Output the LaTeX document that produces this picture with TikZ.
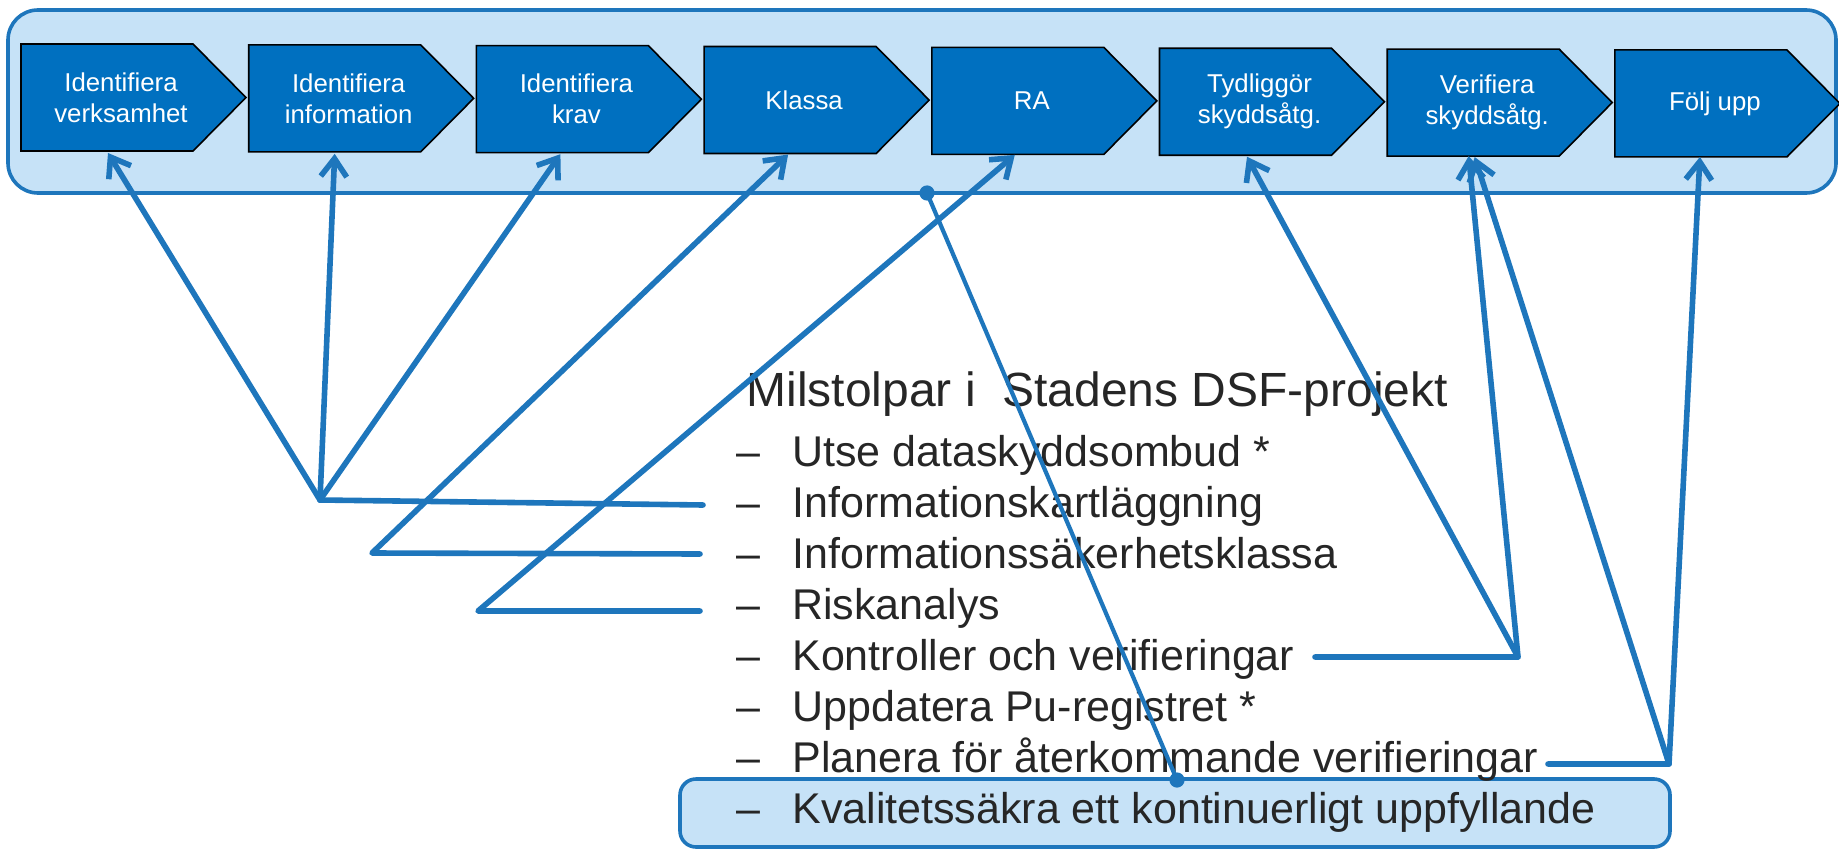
\documentclass[tikz,border=0pt]{standalone}
\usepackage{fontspec}
\setmainfont{Liberation Sans}
\usetikzlibrary{arrows.meta,calc}
\definecolor{lblue}{RGB}{30,118,188}
\definecolor{pale}{RGB}{198,226,247}
\definecolor{chev}{RGB}{0,112,192}
\definecolor{txt}{RGB}{38,38,38}
\newcommand\Chev[4]{%
  \draw[chevbox] (#1,#2) -- ++(172,0) -- ++(53,53.5) -- ++(-53,53.5) -- ++(-172,0) -- cycle;
  \node[chevtext] (#3) at ($(#1,#2)+(100,53.5)$) {#4};
}
\begin{document}
\begin{tikzpicture}[x=0.5pt,y=-0.5pt,
  chevbox/.style={draw=black, line width=0.8pt, fill=chev, line join=miter},
  chevtext/.style={text=white, font=\fontsize{12.9pt}{15.5pt}\selectfont, align=center, inner sep=0pt},
  link/.style={draw=lblue, line width=2.8pt, line cap=round, line join=round},
  arr/.style={link, -{Straight Barb[length=9pt,width=13pt]}},
  item/.style={anchor=base west, text=txt, font=\fontsize{21.5pt}{25pt}\selectfont, inner sep=0pt},
  panel/.style={draw=lblue, line width=1.8pt, fill=pale, inner sep=0pt}
]
\useasboundingbox (0,0) rectangle (1839,850);

% container
\node[panel, rounded corners=15pt, minimum width=914pt, minimum height=91.5pt] (cont) at (922,101.5) {};

% chevrons
\Chev{21}{44}{c1}{Identifiera\\verksamhet}
\Chev{248.7}{44.85}{c2}{Identifiera\\information}
\Chev{476.4}{45.7}{c3}{Identifiera\\krav}
\Chev{704.1}{46.55}{c4}{Klassa}
\Chev{931.8}{47.4}{c5}{RA}
\Chev{1159.5}{48.25}{c6}{Tydliggör\\skyddsåtg.}
\Chev{1387.2}{49.1}{c7}{Verifiera\\skyddsåtg.}
\Chev{1614.9}{49.95}{c8}{Följ upp}

% arrow tips under chevrons
\coordinate (a1) at ($(c1)+(-13,55.5)$);
\coordinate (a2) at ($(c2)+(-14,55.5)$);
\coordinate (a3) at ($(c3)+(-16,55)$);
\coordinate (a4) at ($(c4)+(-16,54.5)$);
\coordinate (a5) at ($(c5)+(-17,54)$);
\coordinate (a6) at ($(c6)+(-12.5,55)$);
\coordinate (a7a) at ($(c7)+(-18.5,53.5)$);
\coordinate (a7b) at ($(c7)+(-12.5,54.5)$);
\coordinate (a8) at ($(c8)+(-15,53.5)$);

% bottom highlighted box
\node[panel, rounded corners=8pt, minimum width=495pt, minimum height=34pt] (kbox) at (1175,813) {};

% text
\node[anchor=base west, text=txt, font=\fontsize{24pt}{28pt}\selectfont, inner sep=0pt] (hdr) at (746,406) {Milstolpar i~\ Stadens DSF-projekt};
\node[item] (m1) at (736,466) {\makebox[28pt][l]{–}Utse dataskyddsombud *};
\node[item] (m2) at (736,517) {\makebox[28pt][l]{–}Informationskartläggning};
\node[item] (m3) at (736,568) {\makebox[28pt][l]{–}Informationssäkerhetsklassa};
\node[item] (m4) at (736,619) {\makebox[28pt][l]{–}Riskanalys};
\node[item] (m5) at (736,670) {\makebox[28pt][l]{–}Kontroller och verifieringar};
\node[item] (m6) at (736,721) {\makebox[28pt][l]{–}Uppdatera Pu-registret *};
\node[item] (m7) at (736,772) {\makebox[28pt][l]{–}Planera för återkommande verifieringar};
\node[item] (m8) at (736,823) {\makebox[28pt][l]{–}Kvalitetssäkra ett kontinuerligt uppfyllande};

% hubs and line ends
\coordinate (p1) at (320,500);
\coordinate (r1) at (703,505);
\coordinate (p2) at (372,553);
\coordinate (r2) at (700,554);
\coordinate (p3) at (478,611);
\coordinate (r3) at (700,611);
\coordinate (p4) at (1518,657);
\coordinate (r4) at (1315,657);
\coordinate (p5) at (1669,764);
\coordinate (r5) at (1548,764);
\coordinate (d1) at (927,193);
\coordinate (d2) at (1177,780);

% connectors
\draw[link] (r1) -- (p1);
\draw[arr] (p1) -- (a1);
\draw[arr] (p1) -- (a2);
\draw[arr] (p1) -- (a3);
\draw[arr] (r2) -- (p2) -- (a4);
\draw[arr] (r3) -- (p3) -- (a5);
\draw[arr] (r4) -- (p4) -- (a6);
\draw[arr] (p4) -- (a7a);
\draw[arr] (r5) -- (p5) -- (a8);
\draw[arr] (p5) -- (a7b);
\draw[link, line width=2.1pt] (d1) -- (d2);
\fill[lblue] (d1) circle[radius=3.8pt];
\fill[lblue] (d2) circle[radius=3.8pt];
\end{tikzpicture}
\end{document}
